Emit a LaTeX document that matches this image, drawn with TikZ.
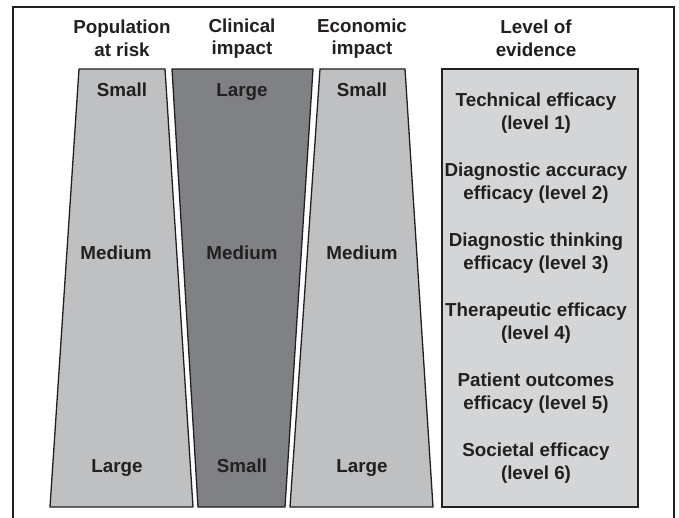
\documentclass[tikz,border=0pt]{standalone}
\usepackage{fontspec}
\setmainfont{Liberation Sans}

\definecolor{inkgray}{HTML}{231F20}
\definecolor{darkfill}{HTML}{808185}
\definecolor{midfill}{HTML}{BFC0C2}
\definecolor{lightfill}{HTML}{D4D5D7}

\tikzset{
    lbl/.style={text=inkgray, font=\bfseries\fontsize{18.8}{22.5}\selectfont,
        align=center, inner sep=0pt},
    word/.style={lbl, text height=13.5pt, text depth=3.5pt},
    colbox/.style={draw=inkgray, line width=1.3pt, line join=miter},
}

\begin{document}
\begin{tikzpicture}[x=1pt, y=-1pt]
            \def \yframe      {7};
            \def \ytop          {69};
            \def \ybot          {507};
            \def \yhead        {38.5};
            \def \ysmall       {92};
            \def \ymid          {255};
            \def \ylarge       {467};

            \def \xframel     {13};
            \def \xframer     {674};
            \def \xpop          {122};
            \def \xclin          {242};
            \def \xeco          {362};
            \def \xlevel       {536};
            \def \xlevell      {442};
            \def \xlevelr      {638};

            \useasboundingbox (0,0) rectangle (679,518);
% frame, open at the bottom
            \draw [draw=inkgray, line width=1.2pt]
                (\xframel, 518) -- (\xframel, \yframe) -- (\xframer, \yframe) -- (\xframer, 518);
% columns
            \filldraw [colbox, fill=midfill]
                (79, \ytop) -- (165, \ytop) -- (193, \ybot) -- (50, \ybot) -- cycle;
            \filldraw [colbox, fill=darkfill]
                (172, \ytop) -- (313, \ytop) -- (285, \ybot) -- (198, \ybot) -- cycle;
            \filldraw [colbox, fill=midfill]
                (320, \ytop) -- (405, \ytop) -- (433, \ybot) -- (290, \ybot) -- cycle;
            \filldraw [colbox, fill=lightfill]
                (\xlevell, \ytop) rectangle (\xlevelr, \ybot);
% headings
            \node [lbl] (pophead) at (\xpop, \yhead) {Population\\at risk};
            \node [lbl] (clinhead) at (\xclin, \yhead) {Clinical\\impact};
            \node [lbl] (ecohead) at (\xeco, \yhead) {Economic\\impact};
            \node [lbl] (levelhead) at (\xlevel, \yhead) {Level of\\evidence};
% sizes
            \node [word] (popsmall) at (\xpop, \ysmall) {Small};
            \node [word] (popmedium) at (116, \ymid) {Medium};
            \node [word] (poplarge) at (117, \ylarge) {Large};

            \node [word] (clinlarge) at (\xclin, \ysmall) {Large};
            \node [word] (clinmedium) at (\xclin, \ymid) {Medium};
            \node [word] (clinsmall) at (\xclin, \ylarge) {Small};

            \node [word] (ecosmall) at (\xeco, \ysmall) {Small};
            \node [word] (ecomedium) at (\xeco, \ymid) {Medium};
            \node [word] (ecolarge) at (\xeco, \ylarge) {Large};
% levels
            \node [lbl] (levone) at (\xlevel, 113) {Technical efficacy\\(level 1)};
            \node [lbl] (levtwo) at (\xlevel, 183) {Diagnostic accuracy\\efficacy (level 2)};
            \node [lbl] (levthree) at (\xlevel, 253) {Diagnostic thinking\\efficacy (level 3)};
            \node [lbl] (levfour) at (\xlevel, 323) {Therapeutic efficacy\\(level 4)};
            \node [lbl] (levfive) at (\xlevel, 393) {Patient outcomes\\efficacy (level 5)};
            \node [lbl] (levsix) at (\xlevel, 463) {Societal efficacy\\(level 6)};
\end{tikzpicture}
\end{document}
